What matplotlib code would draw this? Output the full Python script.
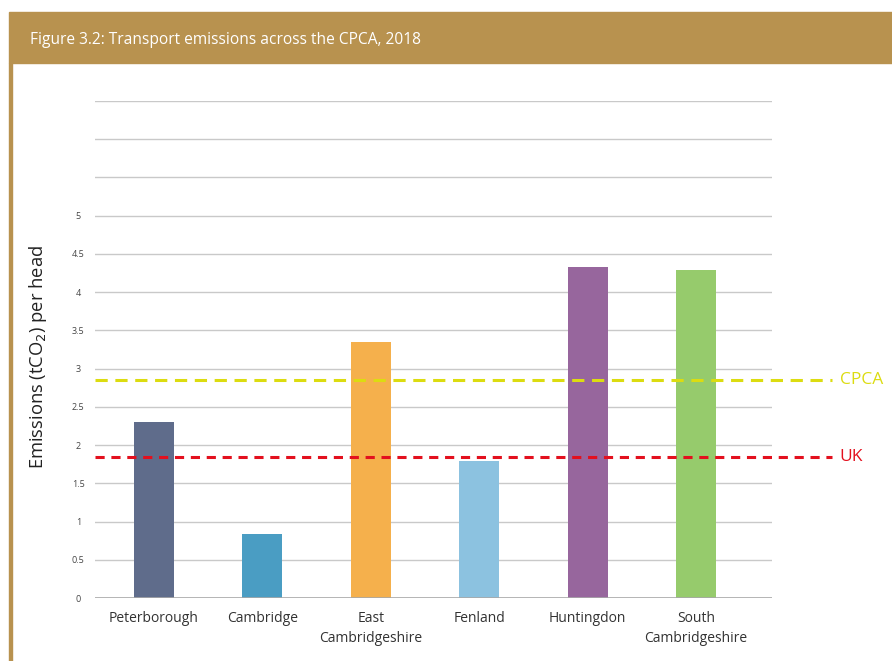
import matplotlib.pyplot as plt
from matplotlib.patches import Rectangle
import matplotlib.transforms as mtransforms

plt.rcParams['font.family'] = ['Open Sans', 'DejaVu Sans']

# Données
districts = ["Peterborough", "Cambridge", "East\nCambridgeshire", "Fenland",
             "Huntingdon", "South\nCambridgeshire"]
emissions = [2.30, 0.84, 3.35, 1.79, 4.33, 4.29]
colours = ["#5F6C8B", "#4A9DC3", "#F5B04C", "#8CC2E0", "#97669D", "#96CB6C"]
cpca_value = 2.85
uk_value = 1.84
y_ticks = [0, 0.5, 1, 1.5, 2, 2.5, 3, 3.5, 4, 4.5, 5]
y_tick_labels = ["0", "0.5", "1", "1.5", "2", "2.5", "3", "3.5", "4", "4.5", "5"]

fig = plt.figure(figsize=(8.92, 6.61), dpi=100)

# Bandeau du titre
gold = "#B8924F"
fig.patches.append(Rectangle((9 / 892, 1 - 63 / 661), 1, 51 / 661,
                             transform=fig.transFigure, color=gold, zorder=0))
fig.patches.append(Rectangle((9 / 892, 0), 3 / 892, 1 - 63 / 661,
                             transform=fig.transFigure, color=gold, zorder=0))
fig.text(30 / 892, 1 - 40 / 661, "Figure 3.2: Transport emissions across the CPCA, 2018",
         color="white", fontsize=11.2, va="center", ha="left")

ax = fig.add_axes([95 / 892, 1 - 598 / 661, 677 / 892, 497 / 661])

x = list(range(len(districts)))
ax.bar(x, emissions, width=0.37, color=colours, zorder=2)

ax.set_xlim(-0.543, 5.70)
ax.set_ylim(0, 6.5)

# Grille horizontale (y compris les lignes sans étiquette au-dessus de 5)
for y in [v * 0.5 for v in range(1, 14)]:
    ax.axhline(y, color="#C9C9C9", linewidth=1, zorder=1)
ax.axhline(0, color="#A8A8A8", linewidth=1.2, zorder=3)

# Lignes de référence CPCA et UK, prolongées hors du cadre
trans = mtransforms.blended_transform_factory(ax.transAxes, ax.transData)
ax.plot([0, 1.089], [cpca_value, cpca_value], transform=trans, clip_on=False,
        color="#DCDC10", linewidth=2.2, dashes=(4, 2.5), zorder=4)
ax.plot([0, 1.089], [uk_value, uk_value], transform=trans, clip_on=False,
        color="#E3101E", linewidth=2.2, dashes=(3, 2.2), zorder=4)
ax.text(1.1, cpca_value, "CPCA", transform=trans, color="#DCDC10",
        fontsize=12.5, va="center", ha="left")
ax.text(1.1, uk_value, "UK", transform=trans, color="#E3101E",
        fontsize=12.5, va="center", ha="left")

ax.set_yticks(y_ticks)
ax.set_yticklabels(y_tick_labels, fontsize=6.5, color="#444444")
ax.set_xticks(x)
ax.set_xticklabels(districts, fontsize=10, color="#333333", linespacing=1.5)
ax.tick_params(axis="y", length=0, pad=12)
ax.tick_params(axis="x", length=0, pad=9)
for label in ax.get_yticklabels():
    label.set_horizontalalignment("center")

for spine in ax.spines.values():
    spine.set_visible(False)

fig.text(38 / 892, 1 - 357 / 661, r"Emissions (tCO$_2$) per head", rotation=90,
         fontsize=13.2, color="#222222", va="center", ha="center")

plt.savefig("out.png", dpi=100)
